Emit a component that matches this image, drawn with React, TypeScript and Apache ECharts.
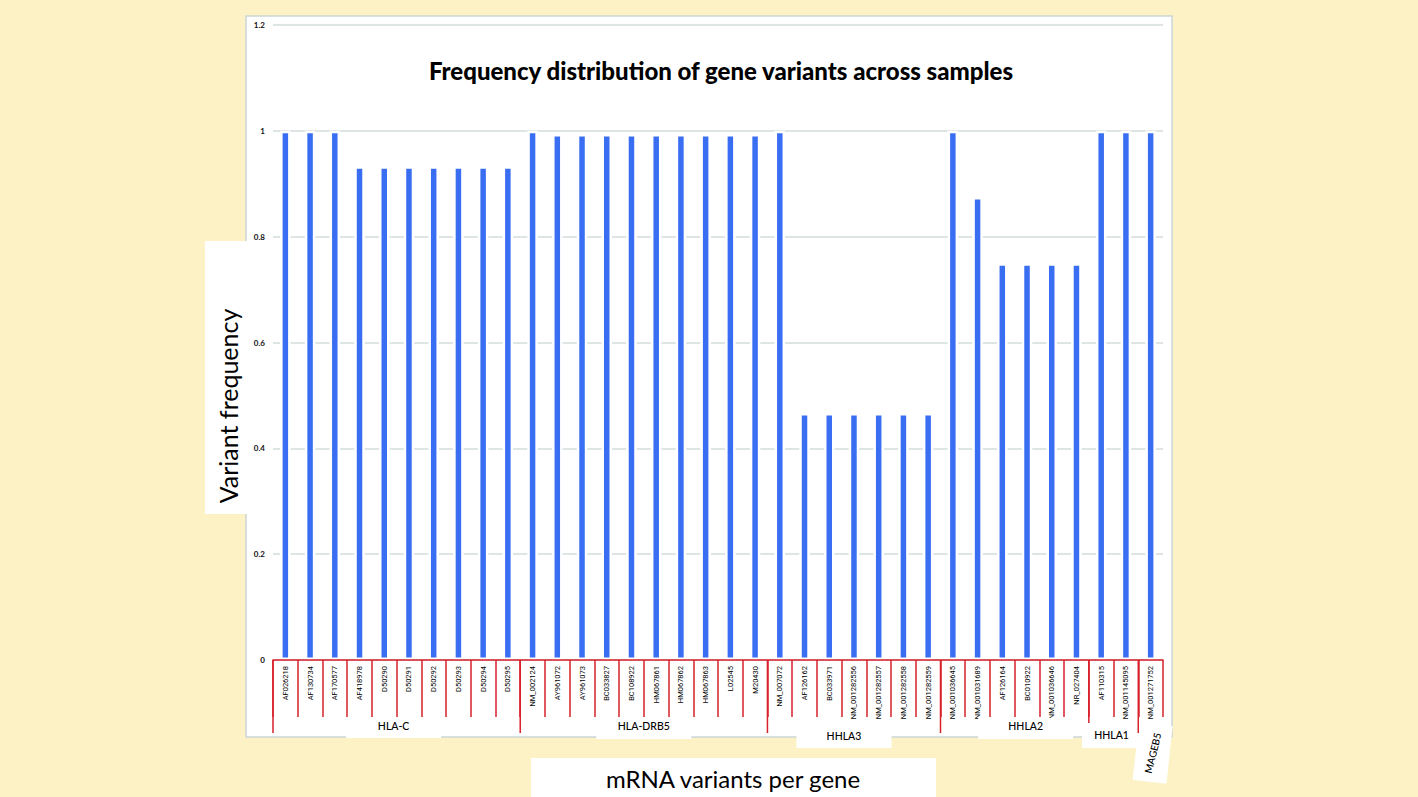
import React, { useEffect, useRef } from "react";
import * as echarts from "echarts";

const hlaC = ["AF026218", "AF130734", "AF170577", "AF418978", "D50290", "D50291", "D50292", "D50293", "D50294", "D50295"];
const hlaDrb5 = ["NM_002124", "AY961072", "AY961073", "BC033827", "BC108922", "HM067861", "HM067862", "HM067863", "L02545", "M20430"];
const hhla3 = ["NM_007072", "AF126162", "BC033971", "NM_001282556", "NM_001282557", "NM_001282558", "NM_001282559"];
const hhla2 = ["NM_001036645", "NM_001031689", "AF126164", "BC010922", "NM_001036646", "NR_027404"];
const hhla1 = ["AF110315", "NM_001145095"];
const mageb5 = ["NM_001271752"];

const hlaCValues = [1, 1, 1, 0.933, 0.933, 0.933, 0.933, 0.933, 0.933, 0.933];
const hlaDrb5Values = [1, 0.994, 0.994, 0.994, 0.994, 0.994, 0.994, 0.994, 0.994, 0.994];
const hhla3Values = [1, 0.467, 0.467, 0.467, 0.467, 0.467, 0.467];
const hhla2Values = [1, 0.875, 0.75, 0.75, 0.75, 0.75];
const hhla1Values = [1, 1];
const mageb5Values = [1];

const groupNames = ["HLA-C", "HLA-DRB5", "HHLA3", "HHLA2", "HHLA1", "MAGEB5"];
const groupMembers = [hlaC, hlaDrb5, hhla3, hhla2, hhla1, mageb5];
const groupValues = [hlaCValues, hlaDrb5Values, hhla3Values, hhla2Values, hhla1Values, mageb5Values];

const categories = groupMembers.flat();
const values = groupValues.flat();

const yTicks = [0, 0.2, 0.4, 0.6, 0.8, 1, 1.2];

const TITLE = "Frequency distribution of gene variants across samples";
const Y_TITLE = "Variant frequency";
const X_TITLE = "mRNA variants per gene";

// label placement styling (offsets relative to group centre / axis line)
const groupLabelDx = [-3, 0, -10, 11, -2, 2];
const groupLabelDy = [66, 66, 76, 66, 75, 93];
const groupBoxW = [95, 95, 95, 95, 59, 58];
const groupBoxTop = [58, 58, 67, 58, 62, 0];
const groupBoxBottom = [78, 79, 88, 79, 88, 0];
const groupLineLen = [73, 73, 73, 73, 63, 73];

const RED = "#D8202A";
const BLUE = "#3A6EF2";
const FONT = "Lato, 'Open Sans', sans-serif";

export default function App() {
  const ref = useRef<HTMLDivElement>(null);
  useEffect(() => {
    const chart = echarts.init(ref.current!, null, { renderer: "svg" });
    const option: any = {
      animation: false,
      grid: { left: 273, right: 255, top: 25, bottom: 137, outerBoundsMode: "none" },
      xAxis: {
        type: "category",
        data: categories,
        z: 3,
        axisLine: { lineStyle: { color: RED, width: 1.5 } },
        axisTick: { show: true, interval: 0, length: 57, lineStyle: { color: RED, width: 1.5 } },
        axisLabel: {
          interval: 0,
          rotate: 90,
          fontSize: 7.5,
          margin: 6,
          color: "#000",
          fontFamily: "Roboto, sans-serif",
        },
        splitLine: { show: false },
      },
      yAxis: {
        type: "value",
        min: yTicks[0],
        max: yTicks[yTicks.length - 1],
        interval: 0.2,
        axisLine: { show: false },
        axisTick: { show: false },
        axisLabel: {
          fontSize: 8,
          fontWeight: "bold",
          color: "#111",
          margin: 8,
          fontFamily: FONT,
        },
        splitLine: { lineStyle: { color: "#D2DCDC", width: 1.5 } },
      },
      series: [
        {
          type: "bar",
          data: values,
          barWidth: 10.5,
          itemStyle: { color: BLUE, borderColor: "#ffffff", borderWidth: 2.5 },
        },
      ],
    };
    chart.setOption(option);

    const px = (i: number) => chart.convertToPixel({ xAxisIndex: 0 }, categories[i]) as number;
    const y0 = chart.convertToPixel({ yAxisIndex: 0 }, 0) as number;
    const band = px(1) - px(0);
    const boundary = (i: number) => px(0) - band / 2 + band * i;

    const elements: any[] = [];
    // chart panel
    elements.push({
      type: "rect",
      z: -10,
      shape: { x: 246, y: 16, width: 926, height: 721 },
      style: { fill: "#ffffff", stroke: "#CCD6D8", lineWidth: 1.5 },
    });
    // title
    elements.push({
      type: "text",
      z: 10,
      x: 721,
      y: 70,
      style: {
        text: TITLE,
        fill: "#000",
        font: `900 24px ${FONT}`,
        align: "center",
        verticalAlign: "middle",
      },
    });
    // y title box + text
    elements.push({
      type: "rect",
      z: -9,
      shape: { x: 205, y: 241, width: 45, height: 273 },
      style: { fill: "#ffffff" },
    });
    elements.push({
      type: "text",
      z: 10,
      x: 228,
      y: 406,
      rotation: Math.PI / 2,
      style: {
        text: Y_TITLE,
        fill: "#000",
        font: `25px ${FONT}`,
        align: "center",
        verticalAlign: "middle",
      },
    });
    // x title box + text
    elements.push({
      type: "rect",
      z: -9,
      shape: { x: 531, y: 758, width: 405, height: 45 },
      style: { fill: "#ffffff" },
    });
    elements.push({
      type: "text",
      z: 10,
      x: 733,
      y: 778,
      style: {
        text: X_TITLE,
        fill: "#000",
        font: `24px ${FONT}`,
        align: "center",
        verticalAlign: "middle",
      },
    });

    // group separators and labels
    let start = 0;
    groupMembers.forEach((members, g) => {
      const end = start + members.length;
      const bx = boundary(start);
      elements.push({
        type: "line",
        z: 8,
        shape: { x1: bx, y1: y0, x2: bx, y2: y0 + groupLineLen[g] },
        style: { stroke: RED, lineWidth: 1.5 },
      });
      const cx = (boundary(start) + boundary(end)) / 2 + groupLabelDx[g];
      const cy = y0 + groupLabelDy[g];
      if (g === groupMembers.length - 1) {
        elements.push({
          type: "rect",
          z: 7,
          x: cx,
          y: cy,
          rotation: (84 * Math.PI) / 180,
          shape: { x: -groupBoxW[g] / 2, y: -17, width: groupBoxW[g], height: 34 },
          style: { fill: "#ffffff" },
        });
        elements.push({
          type: "text",
          z: 9,
          x: cx,
          y: cy,
          rotation: (76 * Math.PI) / 180,
          style: {
            text: groupNames[g],
            fill: "#000",
            font: `500 10px ${FONT}`,
            align: "center",
            verticalAlign: "middle",
          },
        });
      } else {
        elements.push({
          type: "rect",
          z: 7,
          shape: {
            x: cx - groupBoxW[g] / 2,
            y: y0 + groupBoxTop[g],
            width: groupBoxW[g],
            height: groupBoxBottom[g] - groupBoxTop[g],
          },
          style: { fill: "#ffffff" },
        });
        elements.push({
          type: "text",
          z: 9,
          x: cx,
          y: cy,
          style: {
            text: groupNames[g],
            fill: "#000",
            font: `500 10.5px ${FONT}`,
            align: "center",
            verticalAlign: "middle",
          },
        });
      }
      start = end;
    });

    chart.setOption({ graphic: { elements } });
    return () => chart.dispose();
  }, []);
  return (
    <div
      ref={ref}
      style={{ position: "fixed", left: 0, top: 0, width: 1418, height: 797, background: "#FCF2C6" }}
    />
  );
}
